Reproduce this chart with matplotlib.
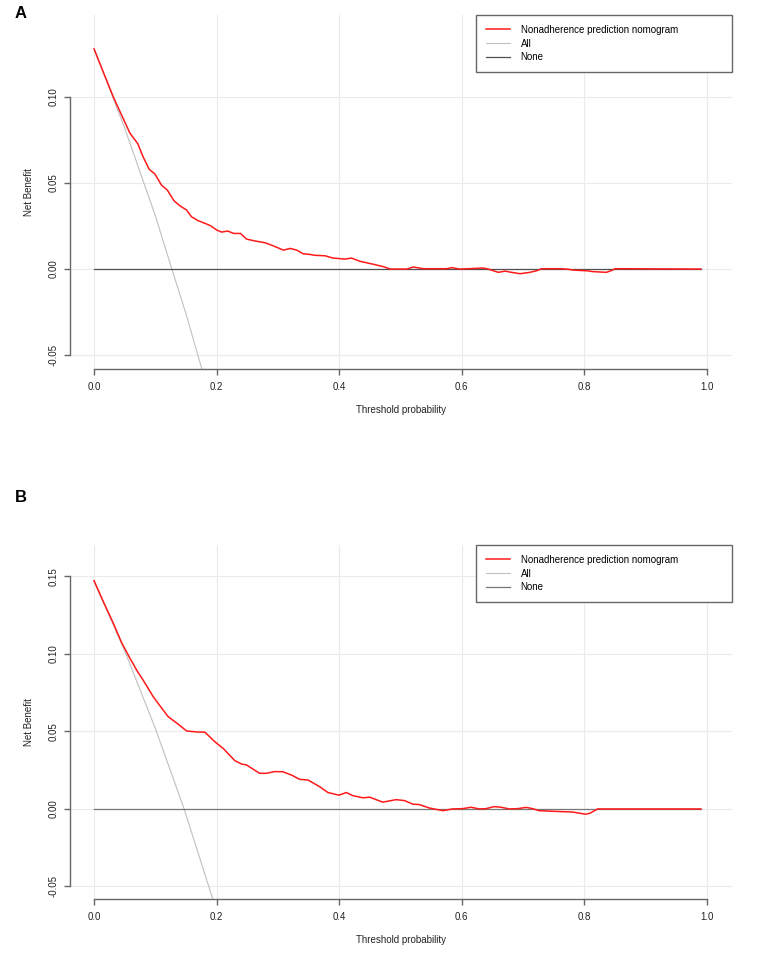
import matplotlib
matplotlib.use("Agg")
import matplotlib.pyplot as plt

plt.rcParams['font.family'] = ['Liberation Sans', 'DejaVu Sans']

# panel A: nomogram net benefit
tA = [0.0, 0.0315, 0.045, 0.0587, 0.0712, 0.080, 0.090, 0.0995, 0.110, 0.1196,
      0.1305, 0.140, 0.151, 0.159, 0.170, 0.181, 0.190, 0.200, 0.208, 0.218,
      0.228, 0.239, 0.249, 0.263, 0.279, 0.2925, 0.309, 0.320, 0.331, 0.341,
      0.352, 0.3605, 0.377, 0.390, 0.4095, 0.420, 0.434, 0.4556, 0.472, 0.483,
      0.510, 0.521, 0.537, 0.575, 0.5835, 0.597, 0.635, 0.643, 0.6596, 0.6705,
      0.681, 0.695, 0.711, 0.722, 0.730, 0.760, 0.771, 0.782, 0.804, 0.8145,
      0.836, 0.8445, 0.850, 0.99]
nbA = [0.128, 0.100, 0.0895, 0.0789, 0.073, 0.0653, 0.058, 0.0552, 0.0488, 0.0459,
       0.0397, 0.0368, 0.0343, 0.0304, 0.0281, 0.0266, 0.0252, 0.0227, 0.0215, 0.0221,
       0.0207, 0.0207, 0.0174, 0.0163, 0.0153, 0.0135, 0.011, 0.012, 0.011, 0.0089,
       0.0085, 0.008, 0.0077, 0.0064, 0.0058, 0.0064, 0.0045, 0.0028, 0.0014, 0.0,
       0.0, 0.0012, 0.0002, 0.0002, 0.0008, 0.0, 0.0006, 0.0, -0.0019, -0.0012,
       -0.0019, -0.0027, -0.0019, -0.001, 0.0002, 0.0002, 0.0, -0.0006, -0.001, -0.0015,
       -0.0019, -0.0008, 0.0002, 0.0]

# treat-all curve A
allA_t = [0.0, 0.05, 0.10, 0.127, 0.15, 0.175, 0.20]
allA_nb = [0.128, 0.082, 0.031, 0.0, -0.026, -0.057, -0.090]

# panel B
tB = [0.0, 0.0152, 0.0315, 0.045, 0.0586, 0.071, 0.080, 0.0966, 0.1086, 0.121,
      0.137, 0.151, 0.167, 0.181, 0.197, 0.2106, 0.2296, 0.2405, 0.2487, 0.270,
      0.281, 0.2948, 0.308, 0.322, 0.3355, 0.349, 0.368, 0.3816, 0.3996, 0.4116,
      0.422, 0.4386, 0.4495, 0.471, 0.493, 0.5065, 0.520, 0.531, 0.547, 0.569,
      0.585, 0.6016, 0.615, 0.6287, 0.6395, 0.653, 0.664, 0.6775, 0.691, 0.705,
      0.7155, 0.726, 0.748, 0.781, 0.802, 0.809, 0.8215, 0.99]
nbB = [0.1473, 0.1337, 0.1198, 0.1073, 0.0972, 0.0886, 0.0832, 0.0724, 0.066, 0.0595,
       0.0548, 0.0503, 0.0497, 0.0495, 0.0434, 0.0391, 0.0312, 0.029, 0.0284, 0.023,
       0.023, 0.0241, 0.024, 0.0219, 0.0191, 0.0187, 0.0144, 0.0106, 0.0089, 0.0106,
       0.0086, 0.0072, 0.0076, 0.0044, 0.006, 0.0054, 0.0031, 0.0028, 0.0006, -0.0011,
       0.0, 0.0002, 0.0011, 0.0, 0.0002, 0.0015, 0.0011, 0.0, 0.0002, 0.001,
       0.0002, -0.0011, -0.0015, -0.002, -0.0034, -0.0028, 0.0, 0.0]

allB_t = [0.0, 0.05, 0.10, 0.147, 0.20]
allB_nb = [0.147, 0.102, 0.052, 0.0, -0.066]

none_t = [0.0, 0.99]
none_nb = [0.0, 0.0]

xticks = [0.0, 0.2, 0.4, 0.6, 0.8, 1.0]
yticksA = [-0.05, 0.00, 0.05, 0.10]
yticksB = [-0.05, 0.00, 0.05, 0.10, 0.15]
labels = ['Nonadherence prediction nomogram', 'All', 'None']

W, H = 762, 965
fig = plt.figure(figsize=(W / 100, H / 100), dpi=100)


def panel(top_px, ylim, t, nb, all_t, all_nb, yticks, none_col, letter, letter_y):
    left, right, bottom = 70, 732, top_px + 354
    ax = fig.add_axes([left / W, 1 - bottom / H, (right - left) / W, 354 / H])
    ax.set_xlim(-0.0392, 1.0408)
    ax.set_ylim(*ylim)
    ax.set_xticks(xticks)
    ax.set_yticks(yticks)
    ax.set_xticklabels(['%.1f' % v for v in xticks])
    ax.set_yticklabels(['%.2f' % v for v in yticks], rotation=90, va='center')
    ax.grid(True, color='#EBEBEB', lw=0.8)
    ax.set_axisbelow(True)
    for s in ['top', 'right']:
        ax.spines[s].set_visible(False)
    for s in ['left', 'bottom']:
        ax.spines[s].set_color('#666666')
        ax.spines[s].set_linewidth(1.0)
    ax.spines['left'].set_bounds(yticks[0], yticks[-1])
    ax.spines['bottom'].set_bounds(0, 1)
    ax.tick_params(axis='both', length=4, width=1.0, color='#666666',
                   labelsize=7, labelcolor='#222222')
    ax.tick_params(axis='x', pad=5)
    ax.tick_params(axis='y', pad=4)

    ax.plot(all_t, all_nb, color='#C0C0C0', lw=0.8, label=labels[1])
    ax.plot(none_t, none_nb, color=none_col, lw=0.9, label=labels[2])
    ax.plot(t, nb, color='#FF1A1A', lw=1.1, label=labels[0])

    h, l = ax.get_legend_handles_labels()
    order = [2, 0, 1]
    leg = ax.legend([h[i] for i in order], [l[i] for i in order],
                    loc='upper right', bbox_to_anchor=(0.6133, 0.0, 0.3867, 1.0),
                    mode='expand', borderaxespad=0, fancybox=False, fontsize=7,
                    handlelength=2.5, handletextpad=1.1, labelspacing=0.4,
                    borderpad=1.0, framealpha=1)
    leg.get_frame().set_edgecolor('#666666')
    leg.get_frame().set_linewidth(1.0)

    ax.set_xlabel('Threshold probability', fontsize=7, color='#222222')
    ax.set_ylabel('Net Benefit', fontsize=7, color='#222222')
    ax.xaxis.set_label_coords(0.5, -41 / 354)
    ax.xaxis.label.set_va('center')
    ax.yaxis.set_label_coords(-41 / 662, 0.5)
    ax.yaxis.label.set_va('center')
    fig.text(15 / W, 1 - letter_y / H, letter, fontsize=12, fontweight='bold',
             ha='left', va='center')
    return ax


panel(15, (-0.0581, 0.1477), tA, nbA, allA_t, allA_nb, yticksA, '#505050', 'A', 13)
panel(545, (-0.0581, 0.1703), tB, nbB, allB_t, allB_nb, yticksB, '#777777', 'B', 497)

fig.savefig('out.png', dpi=100)
